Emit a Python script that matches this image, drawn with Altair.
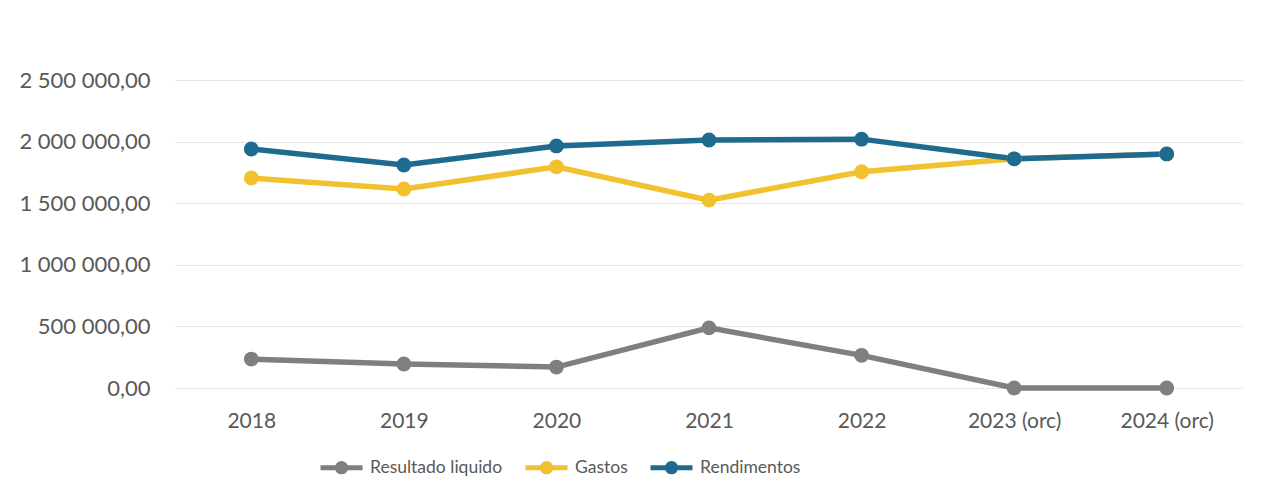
import altair as alt
import pandas as pd

years = ["2018", "2019", "2020", "2021", "2022", "2023 (orc)", "2024 (orc)"]
resultado = [235000, 195000, 170000, 488000, 265000, 0, 0]
gastos = [1705000, 1615000, 1795000, 1525000, 1755000, 1860000, 1900000]
rendimentos = [1940000, 1810000, 1965000, 2013000, 2020000, 1860000, 1900000]

series_names = ["Resultado liquido", "Gastos", "Rendimentos"]
series_colors = ["#7f7f7f", "#f2c12e", "#1f6b8f"]

rows = []
for name, vals in zip(series_names, [resultado, gastos, rendimentos]):
    for i, (y, v) in enumerate(zip(years, vals)):
        rows.append({"ano": y, "valor": v, "serie": name, "ordem": series_names.index(name)})
df = pd.DataFrame(rows)

FONT = "Lato"
TXT = "#595959"

label_expr = ("replace(replace(format(datum.value, ',.2f'), regexp(',', 'g'), ' '), '.', ',')")

x = alt.X("ano:N", sort=years, title=None,
          scale=alt.Scale(padding=0.5),
          axis=alt.Axis(labelAngle=0, domain=False, ticks=False, grid=False,
                        labelFont=FONT, labelFontSize=21, labelColor=TXT,
                        labelPadding=22))
y = alt.Y("valor:Q", title=None,
          scale=alt.Scale(domain=[0, 2500000], nice=False),
          axis=alt.Axis(values=[0, 500000, 1000000, 1500000, 2000000, 2500000],
                        labelExpr=label_expr, domain=False, ticks=False,
                        grid=True, gridColor="#d9d9d9", gridWidth=1, gridDash=[2, 1],
                        labelFont=FONT, labelFontSize=22, labelColor=TXT,
                        labelPadding=25, minExtent=160, maxExtent=160))

legend_path = ("M-1,0 L1,0 M0.2,0 A0.2,0.2 0 1,1 -0.2,0 A0.2,0.2 0 1,1 0.2,0")

color = alt.Color("serie:N", title=None,
                  scale=alt.Scale(domain=series_names, range=series_colors),
                  legend=alt.Legend(orient="none", legendX=143, legendY=364,
                                    direction="horizontal", columns=3,
                                    symbolType=legend_path, symbolSize=1764,
                                    symbolStrokeWidth=5, symbolFillColor="transparent",
                                    labelFont=FONT, labelFontSize=17.5, labelColor=TXT,
                                    labelOffset=5, columnPadding=12, padding=0))

base = alt.Chart(df).encode(x=x, y=y, color=color, order=alt.Order("ordem:Q"),
                            detail="serie:N")

lines = base.mark_line(strokeWidth=5.5)
points = base.mark_point(filled=True, size=220, opacity=1)

chart = alt.layer(lines, points).properties(
    width=1068, height=308,
    padding={"left": 7, "top": 61, "right": 10, "bottom": 10},
    background="white",
).configure_view(stroke=None)

chart.save("out.html", embed_options={"renderer": "svg", "actions": False})
